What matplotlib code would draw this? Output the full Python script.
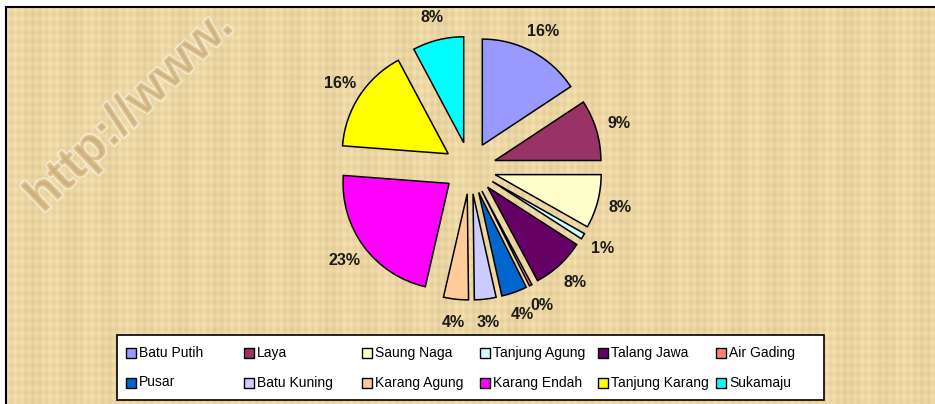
import numpy as np
import matplotlib
matplotlib.use("Agg")
import matplotlib.pyplot as plt
from matplotlib.patches import Rectangle
import matplotlib.patheffects as pe

categories = ["Batu Putih", "Laya", "Saung Naga", "Tanjung Agung", "Talang Jawa",
              "Air Gading", "Pusar", "Batu Kuning", "Karang Agung", "Karang Endah",
              "Tanjung Karang", "Sukamaju"]
values = [15.7, 9.3, 8.2, 0.9, 8.1, 0.4, 3.9, 3.3, 3.8, 22.6, 16.0, 7.8]
colors = ["#9999FF", "#993366", "#FFFFCC", "#CCFFFF", "#660066", "#FF8080",
          "#0066CC", "#CCCCFF", "#FFCC99", "#FF00FF", "#FFFF00", "#00FFFF"]

W, H = 935, 404
fig = plt.figure(figsize=(W / 100, H / 100), dpi=100, facecolor="white")
ax = fig.add_axes([0, 0, 1, 1])
ax.set_axis_off()

# textured parchment background (deterministic pattern)
xx, yy = np.meshgrid(np.arange(W - 6), np.arange(H - 7))
base = np.array([236, 214, 163]) / 255.0
pat = (0.018 * np.sin(xx * 2 * np.pi / 7.0) + 0.015 * np.sin(yy * 2 * np.pi / 9.0)
       + 0.012 * np.sin(xx * 2 * np.pi / 37.0))
img = np.clip(base[None, None, :] + pat[:, :, None], 0, 1)
ax.imshow(img, extent=(6, W, 0, H - 7), origin="upper", zorder=0, interpolation="bilinear")

# frame lines
ax.plot([6, W], [H - 7, H - 7], color="black", lw=1.5, zorder=1)
ax.plot([6, 6], [0, H - 7], color="black", lw=1.5, zorder=1)

# watermark
ax.text(130, H - 112, "http://www.", rotation=44, fontsize=36, fontweight="bold",
        family="Liberation Sans", color=(0.78, 0.64, 0.40), alpha=0.45,
        ha="center", va="center", zorder=1,
        path_effects=[pe.withStroke(linewidth=2.5, foreground=(1, 1, 1, 0.35))])

cx, cy, r = 470, H - 168, 106
wedges, texts, autotexts = ax.pie(
    values, colors=colors, startangle=90, counterclock=False,
    center=(cx, cy), radius=r, explode=[26] * len(values),
    autopct="%1.0f%%", pctdistance=1.22,
    wedgeprops=dict(edgecolor="black", linewidth=1.1),
    textprops=dict(fontsize=11.5, fontweight="bold", family="Liberation Sans",
                   color="#1a1a1a"))
for w in wedges:
    w.set_zorder(3)
for t in autotexts:
    t.set_zorder(4)

ax.set_xlim(0, W)
ax.set_ylim(0, H)
ax.set_aspect("auto")

# legend box
ax.add_patch(Rectangle((117, H - 400), 707, 65, facecolor="white",
                       edgecolor="black", lw=1.2, zorder=5))
for i, (name, col) in enumerate(zip(categories, colors)):
    c, rrow = i % 6, i // 6
    mx = 126 + c * 118
    my = H - (353 + rrow * 29.5)
    ax.add_patch(Rectangle((mx, my - 5), 10, 10, facecolor=col,
                           edgecolor="black", lw=1.0, zorder=6))
    ax.text(mx + 13, my, name, fontsize=10, family="Liberation Sans",
            ha="left", va="center", zorder=6)

fig.savefig("out.png", dpi=100, facecolor="white")
